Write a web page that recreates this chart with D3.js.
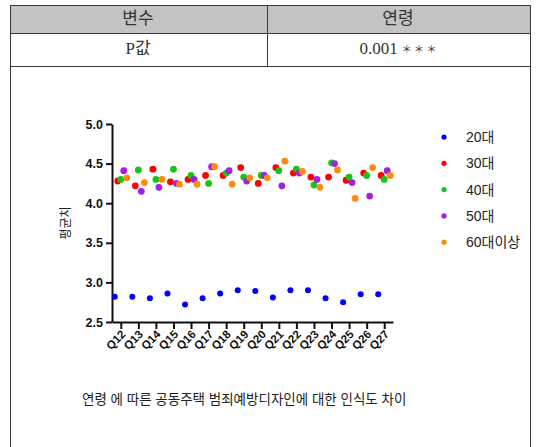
<!DOCTYPE html>
<html>
<head>
<meta charset="utf-8">
<script src="https://cdn.jsdelivr.net/npm/d3@7"></script>
<style>
  body { margin: 0; background: #fff; }
  svg { display: block; }
</style>
</head>
<body>
<svg id="chart" width="537" height="447"></svg>
<script>
// table texts
const headerCells = ['변수', '연령'];
const valueCells = ['P값', '0.001'];
const pStars = '＊ ＊ ＊';
const caption = '연령 에 따른 공동주택 범죄예방디자인에 대한 인식도 차이';

// chart data
const questions = ['Q12', 'Q13', 'Q14', 'Q15', 'Q16', 'Q17', 'Q18', 'Q19',
  'Q20', 'Q21', 'Q22', 'Q23', 'Q24', 'Q25', 'Q26', 'Q27'];
const groups = ['20대', '30대', '40대', '50대', '60대이상'];
const groupColors = ['#0000ff', '#ff0000', '#17c517', '#a11fe6', '#ff8a0d'];
const yTicks = [2.5, 3.0, 3.5, 4.0, 4.5, 5.0];

const age20 = [2.82, 2.82, 2.80, 2.86, 2.72, 2.80, 2.86, 2.90, 2.89, 2.81, 2.90, 2.90, 2.80, 2.75, 2.85, 2.85];
const age30 = [4.28, 4.22, 4.43, 4.27, 4.30, 4.35, 4.35, 4.45, 4.25, 4.45, 4.38, 4.33, 4.33, 4.29, 4.38, 4.35];
const age40 = [4.30, 4.42, 4.30, 4.43, 4.35, 4.25, 4.38, 4.33, 4.35, 4.41, 4.43, 4.23, 4.51, 4.33, 4.35, 4.30];
const age50 = [4.41, 4.15, 4.20, 4.25, 4.30, 4.46, 4.41, 4.28, 4.35, 4.22, 4.38, 4.30, 4.50, 4.26, 4.09, 4.41];
const age60 = [4.32, 4.26, 4.30, 4.24, 4.24, 4.46, 4.24, 4.32, 4.32, 4.53, 4.40, 4.20, 4.42, 4.06, 4.45, 4.35];
const seriesValues = [age20, age30, age40, age50, age60];

const svg = d3.select('#chart');
const lineColor = '#3a3a3a';
const serif = '"Liberation Serif", "Noto Sans CJK KR", serif';
const sans = '"Liberation Sans", "Noto Sans CJK KR", sans-serif';

// --- table frame
const tLeft = 10, tRight = 530, tMid = 267;
const rowY = [5, 33, 66];

svg.append('rect')
  .attr('x', tLeft).attr('y', rowY[0])
  .attr('width', tRight - tLeft).attr('height', rowY[1] - rowY[0])
  .attr('fill', '#c3c3c3');

const frame = svg.append('g').attr('stroke', lineColor).attr('stroke-width', 1).attr('fill', 'none');
rowY.forEach(y => frame.append('line').attr('x1', tLeft).attr('x2', tRight).attr('y1', y + 0.5).attr('y2', y + 0.5));
frame.append('line').attr('x1', tLeft + 0.5).attr('x2', tLeft + 0.5).attr('y1', rowY[0]).attr('y2', 447);
frame.append('line').attr('x1', tRight + 0.5).attr('x2', tRight + 0.5).attr('y1', rowY[0]).attr('y2', 447);
frame.append('line').attr('x1', tMid + 0.5).attr('x2', tMid + 0.5).attr('y1', rowY[0]).attr('y2', rowY[2]);

const colCenters = [138, 398];
[headerCells, valueCells].forEach((row, ri) => {
  row.forEach((t, ci) => {
    const txt = svg.append('text')
      .attr('x', colCenters[ci])
      .attr('y', (rowY[ri] + rowY[ri + 1]) / 2 + 1)
      .attr('text-anchor', 'middle')
      .attr('dominant-baseline', 'middle')
      .attr('font-family', serif)
      .attr('font-size', '17px')
      .attr('fill', '#333')
      .text(t);
    // significance stars after the p value
    if (ri === 1 && ci === 1) {
      txt.append('tspan').attr('font-size', '10px').attr('dx', 4).text(pStars);
    }
  });
});

// --- scatter chart
const x = d3.scalePoint().domain(questions).range([112, 393]).padding(0.5);
const dodge = d3.scalePoint().domain(groups).range([-6, 6]);
const y = d3.scaleLinear().domain([2.5, 5]).range([322, 124]);

const g = svg.append('g');

const yAxis = g.append('g')
  .attr('transform', 'translate(112,0)')
  .call(d3.axisLeft(y).tickValues(yTicks).tickFormat(d3.format('.1f')).tickSize(6).tickSizeOuter(0));
const xAxis = g.append('g')
  .attr('transform', 'translate(0,322)')
  .call(d3.axisBottom(x).tickSize(7).tickSizeOuter(0));

[yAxis, xAxis].forEach(ax => {
  ax.select('.domain').attr('stroke', '#111').attr('stroke-width', 2);
  ax.selectAll('.tick line').attr('stroke', '#111').attr('stroke-width', 2);
  ax.selectAll('text')
    .attr('font-family', sans)
    .attr('font-weight', 'bold')
    .attr('fill', '#111');
});
yAxis.selectAll('text').attr('font-size', '12.5px').attr('x', -9);
xAxis.selectAll('text')
  .attr('font-size', '11.5px')
  .attr('text-anchor', 'end')
  .attr('dy', null)
  .attr('y', 0)
  .attr('x', 0)
  .attr('transform', 'translate(5,13) rotate(-45)');

g.append('text')
  .attr('transform', 'translate(70,223) rotate(-90)')
  .attr('text-anchor', 'middle')
  .attr('font-family', sans)
  .attr('font-size', '12px')
  .attr('fill', '#222')
  .text('평균치');

groups.forEach((grp, si) => {
  g.append('g')
    .selectAll('circle')
    .data(seriesValues[si])
    .join('circle')
    .attr('cx', (d, i) => x(questions[i]) + dodge(grp))
    .attr('cy', d => y(d))
    .attr('r', si === 0 ? 3 : 3.4)
    .attr('fill', groupColors[si]);
});

// legend
const legend = g.append('g').attr('transform', 'translate(444,137)');
groups.forEach((grp, si) => {
  const row = legend.append('g').attr('transform', `translate(0,${si * 26.3})`);
  row.append('circle').attr('r', 2.6).attr('fill', groupColors[si]);
  row.append('text')
    .attr('x', 22)
    .attr('dy', '0.35em')
    .attr('font-family', sans)
    .attr('font-size', '14px')
    .attr('fill', '#222')
    .text(grp);
});

// caption
svg.append('text')
  .attr('x', 82)
  .attr('y', 400)
  .attr('dominant-baseline', 'middle')
  .attr('font-family', sans)
  .attr('font-size', '13.5px')
  .attr('fill', '#222')
  .text(caption);
</script>
</body>
</html>
